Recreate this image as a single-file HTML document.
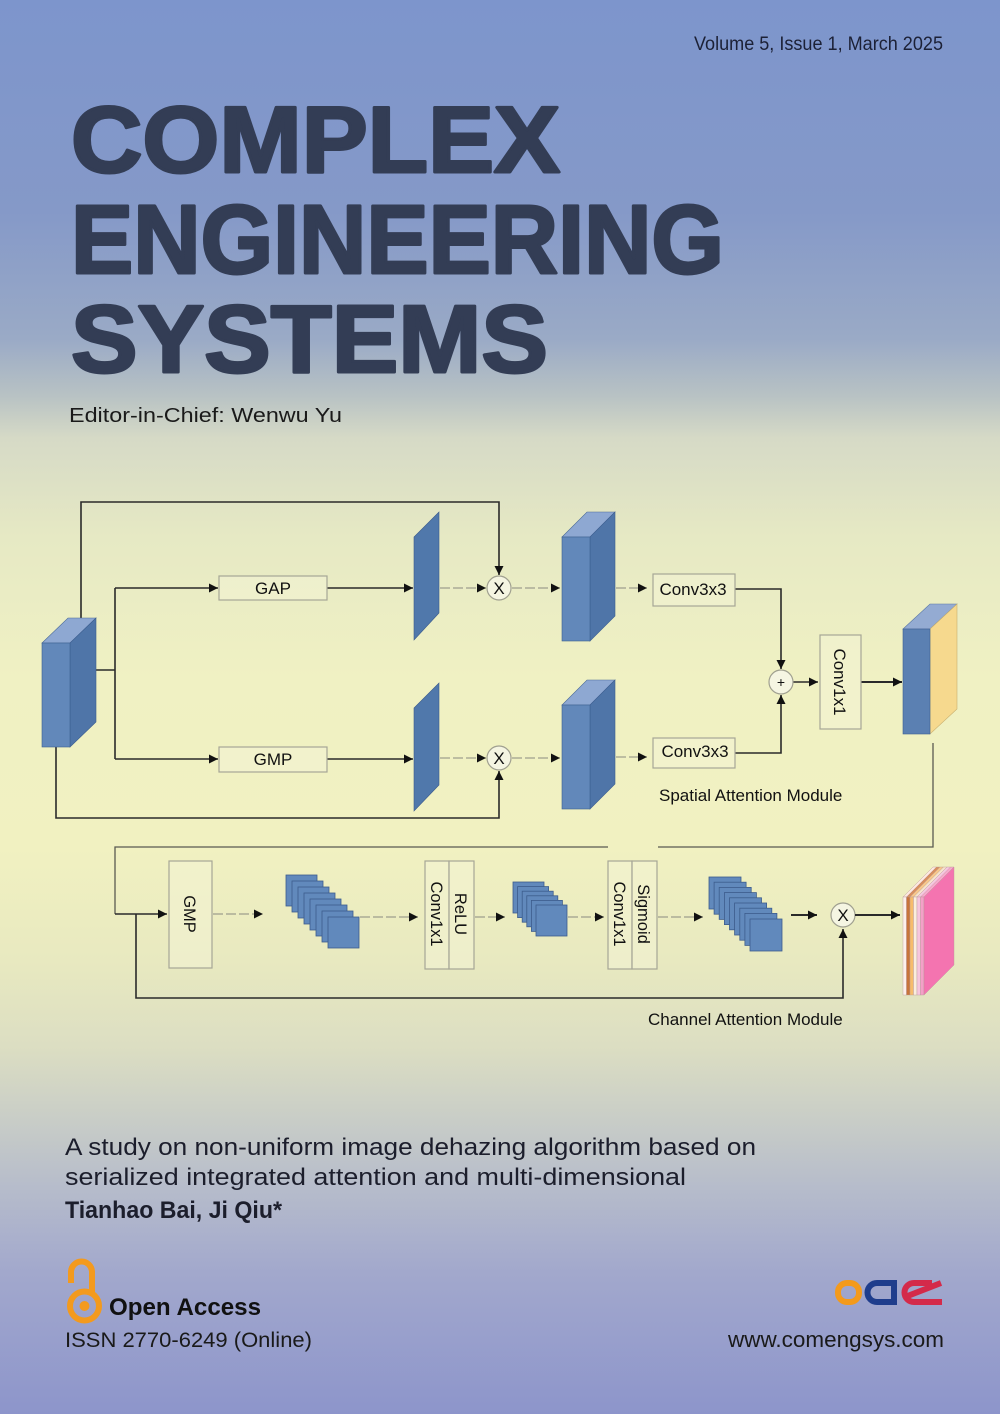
<!DOCTYPE html>
<html>
<head>
<meta charset="utf-8">
<style>
html,body{margin:0;padding:0;}
body{width:1000px;height:1414px;overflow:hidden;
background:linear-gradient(180deg,#7d95cc 0%,#8599c8 15%,#9aaac6 24%,#b8c2c4 28%,#d6dac6 31%,#e6e9c4 38%,#f0f1c3 48%,#f1f1c1 60%,#e8e9c0 68%,#dcdec2 74%,#cdd1c6 78%,#b6bccb 84%,#a2a8cc 90%,#8d95cb 100%);}
svg{position:absolute;left:0;top:0;}
text{font-family:"Liberation Sans",Arial,sans-serif;}
</style>
</head>
<body>
<svg width="1000" height="1414" viewBox="0 0 1000 1414" xmlns="http://www.w3.org/2000/svg">
<defs>
<marker id="ar" viewBox="0 0 10 10" refX="10" refY="5" markerWidth="10" markerHeight="9" markerUnits="userSpaceOnUse" orient="auto">
<path d="M0,0 L10,5 L0,10 z" fill="#111"/>
</marker>
</defs>

<!-- Header -->
<text x="694" y="50" font-size="19" fill="#1c2136" textLength="249" lengthAdjust="spacingAndGlyphs">Volume 5, Issue 1, March 2025</text>
<g fill="#333d55" stroke="#333d55" stroke-width="3" stroke-linejoin="round" font-weight="bold">
<text x="71" y="172" font-size="94" textLength="489" lengthAdjust="spacingAndGlyphs">COMPLEX</text>
<text x="71" y="273" font-size="97" textLength="653" lengthAdjust="spacingAndGlyphs">ENGINEERING</text>
<text x="71" y="372" font-size="96" textLength="477" lengthAdjust="spacingAndGlyphs">SYSTEMS</text>
</g>
<text x="69" y="422" font-size="20" fill="#1a1a1a" textLength="273" lengthAdjust="spacingAndGlyphs">Editor-in-Chief: Wenwu Yu</text>

<!-- ================= Spatial attention ================= -->
<g fill="none" stroke="#2a2a2a" stroke-width="1.6">
<path d="M81,622 V502 H499 V575" marker-end="url(#ar)"/>
<path d="M96,670 H115"/>
<path d="M115,588 V759"/>
<path d="M115,588 H218" marker-end="url(#ar)"/>
<path d="M115,759 H218" marker-end="url(#ar)"/>
<path d="M327,588 H413" marker-end="url(#ar)"/>
<path d="M327,759 H413" marker-end="url(#ar)"/>
<path d="M56,747 V818 H499 V771" marker-end="url(#ar)"/>
<path d="M735,589 H781 V669" marker-end="url(#ar)"/>
<path d="M735,753 H781 V695" marker-end="url(#ar)"/>
<path d="M793,682 H818" marker-end="url(#ar)"/>
<path d="M861,682 H902" stroke-width="2" marker-end="url(#ar)"/>
</g>
<g fill="none" stroke="#8a8a80" stroke-width="1" stroke-dasharray="10 3">
<path d="M440,588 H486" marker-end="url(#ar)"/>
<path d="M440,758 H486" marker-end="url(#ar)"/>
<path d="M512,588 H560" marker-end="url(#ar)"/>
<path d="M512,758 H560" marker-end="url(#ar)"/>
<path d="M616,588 H647" marker-end="url(#ar)"/>
<path d="M616,757 H647" marker-end="url(#ar)"/>
</g>

<!-- left input cube -->
<polygon points="42,643 68,618 96,618 70,643" fill="#8ea8d2" stroke="#4a6a98" stroke-width="0.6"/>
<polygon points="70,643 96,618 96,722 70,747" fill="#4f75a8" stroke="#3d5f90" stroke-width="0.6"/>
<rect x="42" y="643" width="28" height="104" fill="#6288ba" stroke="#3d5f90" stroke-width="0.6"/>

<!-- boxes -->
<g fill="#f3f3d6" fill-opacity="0.5" stroke="#a6a696" stroke-width="1.2">
<rect x="219" y="576" width="108" height="24"/>
<rect x="219" y="747" width="108" height="25"/>
<rect x="653" y="574" width="82" height="32"/>
<rect x="653" y="738" width="82" height="30"/>
<rect x="820" y="635" width="41" height="94"/>
</g>
<g font-size="17" fill="#111" text-anchor="middle">
<text x="273" y="594">GAP</text>
<text x="273" y="765">GMP</text>
<text x="693" y="595">Conv3x3</text>
<text x="695" y="757">Conv3x3</text>
<text transform="translate(840,682) rotate(90)" y="6">Conv1x1</text>
</g>

<!-- flat planes -->
<polygon points="414,537 439,512 439,613 414,640" fill="#5078ab" stroke="#3b5b8c" stroke-width="0.6"/>
<polygon points="414,708 439,683 439,785 414,811" fill="#5078ab" stroke="#3b5b8c" stroke-width="0.6"/>

<!-- circles -->
<g fill="#f5f5e2" stroke="#a0a090" stroke-width="1.2">
<circle cx="499" cy="588" r="12"/>
<circle cx="499" cy="758" r="12"/>
<circle cx="781" cy="682" r="12"/>
<circle cx="843" cy="915" r="12"/>
</g>
<g font-size="17" fill="#111" text-anchor="middle">
<text x="499" y="594">X</text>
<text x="499" y="764">X</text>
<text x="781" y="687" font-size="14">+</text>
<text x="843" y="921">X</text>
</g>

<!-- tall cuboids -->
<polygon points="562,537 587,512 615,512 590,537" fill="#8ea8d2" stroke="#4a6a98" stroke-width="0.6"/>
<polygon points="590,537 615,512 615,616 590,641" fill="#4f75a8" stroke="#3d5f90" stroke-width="0.6"/>
<rect x="562" y="537" width="28" height="104" fill="#6288ba" stroke="#3d5f90" stroke-width="0.6"/>
<polygon points="562,705 587,680 615,680 590,705" fill="#8ea8d2" stroke="#4a6a98" stroke-width="0.6"/>
<polygon points="590,705 615,680 615,784 590,809" fill="#4f75a8" stroke="#3d5f90" stroke-width="0.6"/>
<rect x="562" y="705" width="28" height="104" fill="#6288ba" stroke="#3d5f90" stroke-width="0.6"/>

<!-- output cuboid -->
<polygon points="903,629 930,604 957,604 930,629" fill="#94abd2" stroke="#5a78a6" stroke-width="0.6"/>
<polygon points="930,629 957,604 957,709 930,734" fill="#f6d98e" stroke="#c8b070" stroke-width="0.6"/>
<rect x="903" y="629" width="27" height="105" fill="#5b80b2" stroke="#3d5f90" stroke-width="0.6"/>

<text x="659" y="801" font-size="17" fill="#111">Spatial Attention Module</text>

<!-- ================= Channel attention ================= -->
<g fill="none" stroke="#5a5a52" stroke-width="1.3">
<path d="M933,743 V847 H658"/>
<path d="M608,847 H115 V914"/>
</g>
<g fill="none" stroke="#2a2a2a" stroke-width="1.6">
<path d="M115,914 H167" marker-end="url(#ar)"/>
<path d="M136,914 V998 H843 V929" marker-end="url(#ar)"/>
<path d="M791,915 H817" stroke-width="2" marker-end="url(#ar)"/>
<path d="M855,915 H900" stroke-width="2" marker-end="url(#ar)"/>
</g>
<g fill="none" stroke="#8a8a80" stroke-width="1" stroke-dasharray="10 3">
<path d="M213,914 H263" marker-end="url(#ar)"/>
<path d="M360,917 H418" marker-end="url(#ar)"/>
<path d="M475,917 H505" marker-end="url(#ar)"/>
<path d="M568,917 H604" marker-end="url(#ar)"/>
<path d="M658,917 H703" marker-end="url(#ar)"/>
</g>

<g fill="#f3f3d6" fill-opacity="0.5" stroke="#a6a696" stroke-width="1.2">
<rect x="169" y="861" width="43" height="107"/>
<rect x="425" y="861" width="24" height="108"/>
<rect x="449" y="861" width="25" height="108"/>
<rect x="608" y="861" width="24" height="108"/>
<rect x="632" y="861" width="25" height="108"/>
</g>
<g font-size="16.5" fill="#111" text-anchor="middle">
<text transform="translate(190,914) rotate(90)" y="6">GMP</text>
<text transform="translate(437,914) rotate(90)" y="6">Conv1x1</text>
<text transform="translate(461,914) rotate(90)" y="6">ReLU</text>
<text transform="translate(620,914) rotate(90)" y="6">Conv1x1</text>
<text transform="translate(644,914) rotate(90)" y="6">Sigmoid</text>
</g>

<!-- stacks -->
<g fill="#6189bc" stroke="#3c5c8c" stroke-width="0.8">
<rect x="286" y="875" width="31" height="31"/>
<rect x="292" y="881" width="31" height="31"/>
<rect x="298" y="887" width="31" height="31"/>
<rect x="304" y="893" width="31" height="31"/>
<rect x="310" y="899" width="31" height="31"/>
<rect x="316" y="905" width="31" height="31"/>
<rect x="322" y="911" width="31" height="31"/>
<rect x="328" y="917" width="31" height="31"/>

<rect x="513" y="882" width="31" height="31"/>
<rect x="517.6" y="886.6" width="31" height="31"/>
<rect x="522.2" y="891.2" width="31" height="31"/>
<rect x="526.8" y="895.8" width="31" height="31"/>
<rect x="531.4" y="900.4" width="31" height="31"/>
<rect x="536" y="905" width="31" height="31"/>

<rect x="709" y="877" width="32" height="32"/>
<rect x="714.1" y="882.2" width="32" height="32"/>
<rect x="719.2" y="887.4" width="32" height="32"/>
<rect x="724.4" y="892.6" width="32" height="32"/>
<rect x="729.5" y="897.8" width="32" height="32"/>
<rect x="734.6" y="903" width="32" height="32"/>
<rect x="739.8" y="908.2" width="32" height="32"/>
<rect x="744.9" y="913.4" width="32" height="32"/>
<rect x="750" y="919" width="32" height="32"/>
</g>

<!-- final output stack -->
<g stroke-width="0.4" stroke="#b89898">
<polygon points="903,897 933,867 936.5,867 906.5,897" fill="#fde8e0"/>
<rect x="903" y="897" width="3.5" height="98" fill="#fdf0ec"/>
<polygon points="906.5,897 936.5,867 940,867 910,897" fill="#d89060"/>
<rect x="906.5" y="897" width="3.5" height="98" fill="#c8743a"/>
<polygon points="910,897 940,867 943.5,867 913.5,897" fill="#f8c88a"/>
<rect x="910" y="897" width="3.5" height="98" fill="#f7bc6c"/>
<polygon points="913.5,897 943.5,867 947,867 917,897" fill="#f6e4cc"/>
<rect x="913.5" y="897" width="3.5" height="98" fill="#fbeedd"/>
<polygon points="917,897 947,867 950.5,867 920.5,897" fill="#f5c8e0"/>
<rect x="917" y="897" width="3.5" height="98" fill="#f6c6de"/>
<polygon points="920.5,897 950.5,867 954,867 924,897" fill="#f8a8cc"/>
<rect x="920.5" y="897" width="3.5" height="98" fill="#f4a0c8"/>
<polygon points="924,897 954,867 954,965 924,995" fill="#f474b0"/>
</g>

<text x="648" y="1025" font-size="17" fill="#111">Channel Attention Module</text>

<!-- ================= Footer ================= -->
<g fill="#1c1e2c" font-size="24">
<text x="65" y="1155" textLength="691" lengthAdjust="spacingAndGlyphs">A study on non-uniform image dehazing algorithm based on</text>
<text x="65" y="1185" textLength="621" lengthAdjust="spacingAndGlyphs">serialized integrated attention and multi-dimensional</text>
<text x="65" y="1218" font-weight="bold" textLength="217" lengthAdjust="spacingAndGlyphs">Tianhao Bai, Ji Qiu*</text>
</g>

<!-- OA logo -->
<g fill="none" stroke="#f39a1e" stroke-width="6">
<path d="M71,1283 V1272 A10.5,10.5 0 0 1 92,1272 V1293"/>
<circle cx="84.5" cy="1306" r="14.5"/>
</g>
<circle cx="84.5" cy="1306" r="5" fill="#f39a1e"/>
<text x="109" y="1315" font-size="24" font-weight="bold" fill="#111" textLength="152" lengthAdjust="spacingAndGlyphs">Open Access</text>
<text x="65" y="1347" font-size="21" fill="#1a1a1a" textLength="247" lengthAdjust="spacingAndGlyphs">ISSN 2770-6249 (Online)</text>

<!-- oae logo -->
<rect x="838" y="1283" width="21" height="19" rx="9" fill="none" stroke="#f39a1c" stroke-width="6"/>
<g fill="none" stroke="#1f3d8c" stroke-width="6">
<path d="M893,1283 H877 A9.5,9.5 0 0 0 877,1302 H893"/>
<path d="M894,1280 V1305"/>
</g>
<g fill="none" stroke="#d42a4a" stroke-width="6">
<path d="M942,1302 H914 A9.5,9.5 0 0 1 914,1283 H932"/>
<path d="M905,1297 L941,1283"/>
</g>
<text x="728" y="1347" font-size="22" fill="#1a1a1a" textLength="216" lengthAdjust="spacingAndGlyphs">www.comengsys.com</text>
</svg>
</body>
</html>
